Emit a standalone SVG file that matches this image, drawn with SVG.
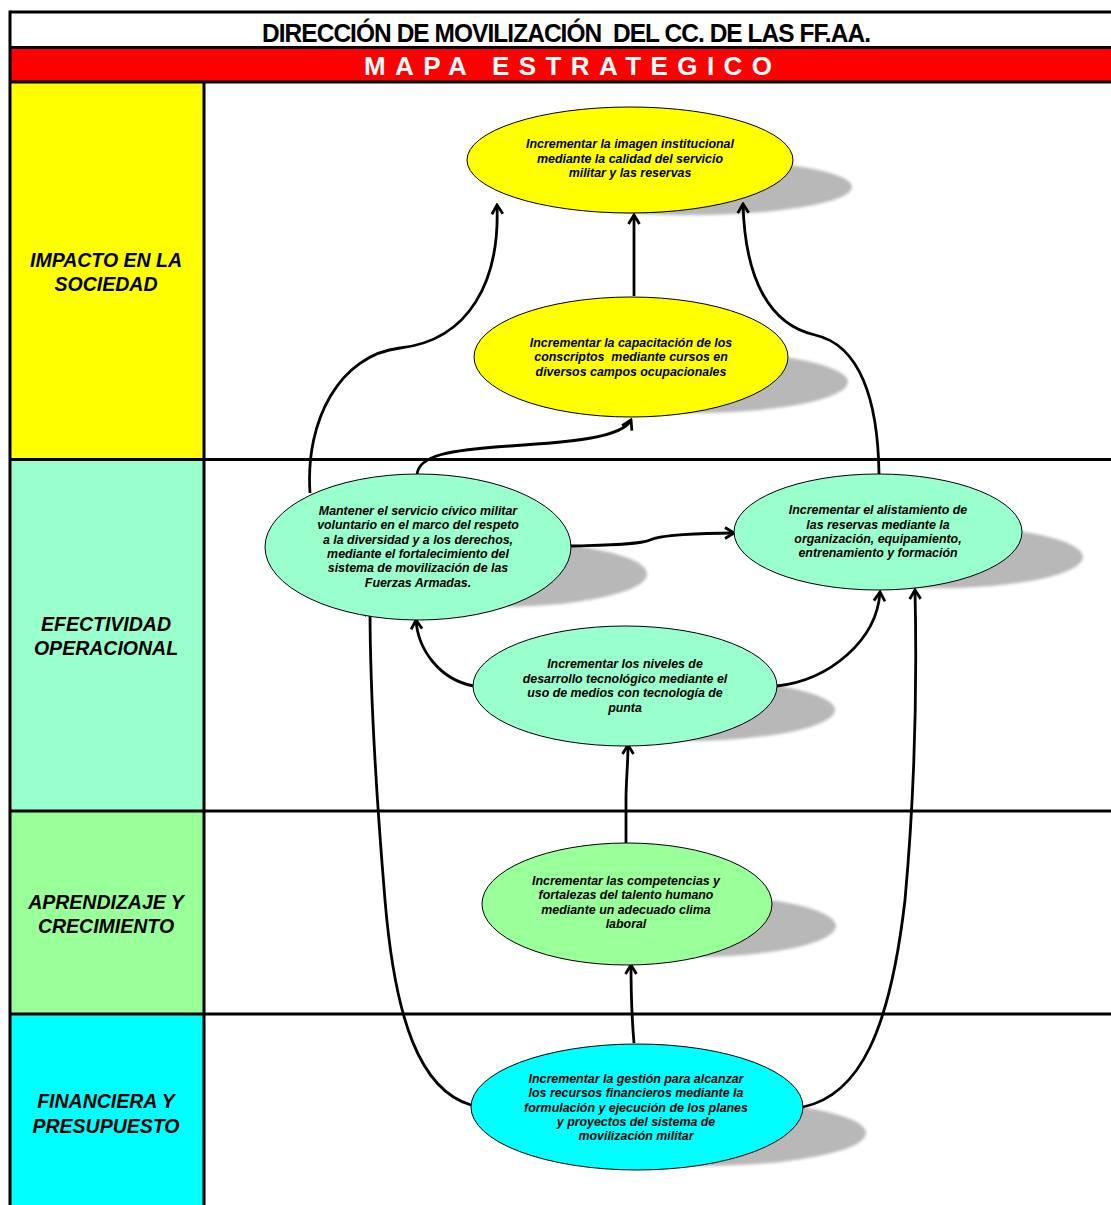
<svg xmlns="http://www.w3.org/2000/svg" width="1111" height="1205" viewBox="0 0 1111 1205">
<style>
.band{stroke:none}
.rule{stroke:#000;stroke-width:3;fill:none}
.lbl{font-family:"Liberation Sans",Arial,sans-serif;font-weight:bold;font-style:italic;font-size:19.5px;text-anchor:middle;fill:#000}
.ntx{font-family:"Liberation Sans",Arial,sans-serif;font-weight:bold;font-style:italic;font-size:12.4px;text-anchor:middle;fill:#000}
.node{stroke:#000;stroke-width:1}
.shadow{fill:#b8b8b8;filter:url(#blur)}
.conn{fill:none;stroke:#000;stroke-width:2.8;marker-end:url(#arr)}
</style>
<defs>
<filter id="blur" x="-10%" y="-30%" width="120%" height="160%"><feGaussianBlur stdDeviation="1.5"/></filter>
<marker id="arr" viewBox="0 0 14 14" refX="12" refY="7" markerWidth="14" markerHeight="14" markerUnits="userSpaceOnUse" orient="auto">
<path d="M3,1.5 L12,7 L3,12.5" fill="none" stroke="#000" stroke-width="2.8" stroke-linejoin="miter"/>
</marker>
</defs>
<rect x="0" y="0" width="1111" height="1205" fill="#fff"/>
<g id="header">
<rect class="band" x="10" y="48" width="1101" height="34" fill="#ff0000"/>
<text x="566" y="42" font-family="'Liberation Sans',Arial,sans-serif" font-weight="bold" font-size="26" text-anchor="middle" textLength="608" lengthAdjust="spacingAndGlyphs" letter-spacing="-1" xml:space="preserve">DIRECCIÓN DE MOVILIZACIÓN  DEL CC. DE LAS FF.AA.</text>
<text x="568" y="75" font-family="'Liberation Sans',Arial,sans-serif" font-weight="bold" font-size="26" fill="#fff" text-anchor="middle" textLength="408" lengthAdjust="spacing">MAPA  ESTRATEGICO</text>
</g>
<g id="lane-impacto">
<rect class="band" x="10" y="83" width="194" height="376" fill="#ffff00"/>
<text class="lbl" x="106" y="267">IMPACTO EN LA</text>
<text class="lbl" x="106" y="291">SOCIEDAD</text>
</g>
<g id="lane-efectividad">
<rect class="band" x="10" y="460" width="194" height="351" fill="#99ffcc"/>
<text class="lbl" x="106" y="631">EFECTIVIDAD</text>
<text class="lbl" x="106" y="655">OPERACIONAL</text>
</g>
<g id="lane-aprendizaje">
<rect class="band" x="10" y="812" width="194" height="202" fill="#99ff99"/>
<text class="lbl" x="106" y="909">APRENDIZAJE Y</text>
<text class="lbl" x="106" y="933">CRECIMIENTO</text>
</g>
<g id="lane-financiera">
<rect class="band" x="10" y="1015" width="194" height="190" fill="#00ffff"/>
<text class="lbl" x="106" y="1108">FINANCIERA Y</text>
<text class="lbl" x="106" y="1133">PRESUPUESTO</text>
</g>
<g id="grid">
<line class="rule" x1="10" y1="12" x2="1111" y2="12"/>
<line class="rule" x1="10" y1="47.5" x2="1111" y2="47.5"/>
<line class="rule" x1="10" y1="82" x2="1111" y2="82"/>
<line class="rule" x1="10" y1="459.5" x2="1111" y2="459.5"/>
<line class="rule" x1="10" y1="811" x2="1111" y2="811"/>
<line class="rule" x1="10" y1="1014" x2="1111" y2="1014"/>
<line class="rule" x1="10" y1="10.5" x2="10" y2="1205"/>
<line class="rule" x1="204" y1="82" x2="204" y2="1205"/>
</g>
<g id="shadows">
<ellipse class="shadow" cx="689" cy="187" rx="163" ry="28"/>
<ellipse class="shadow" cx="691" cy="382" rx="157" ry="31"/>
<ellipse class="shadow" cx="495" cy="574" rx="152" ry="33"/>
<ellipse class="shadow" cx="939" cy="557" rx="144" ry="31"/>
<ellipse class="shadow" cx="683" cy="710" rx="152" ry="31"/>
<ellipse class="shadow" cx="691" cy="926" rx="145" ry="31"/>
<ellipse class="shadow" cx="700" cy="1133" rx="166" ry="33"/>
</g>
<g id="connectors">
<path class="conn" d="M310,493 C305,420 340,355 400,348 C470,340 500,280 497,205"/>
<path class="conn" d="M634,296 L634,215"/>
<path class="conn" d="M417,475 C418,455 450,450 510,446 C570,442 622,438 631,420"/>
<path class="conn" d="M879,474 C878,400 860,345 815,335 C770,325 745,280 743,204"/>
<path class="conn" d="M570,546 C600,545 640,545 650,540 C660,535 700,533 734,533"/>
<path class="conn" d="M474,686 C440,680 418,650 416,620"/>
<path class="conn" d="M777,686 C830,680 877,640 880,592"/>
<path class="conn" d="M626,843 L626,800 C626,780 628,765 628,745"/>
<path class="conn" d="M634,1043 C632,1020 631,990 631,965"/>
<path class="conn" d="M471,1105 C420,1090 395,1020 385,900 C375,780 370,680 370,607"/>
<path class="conn" d="M803,1107 C860,1095 890,1030 905,900 C915,790 917,680 915,590"/>
</g>
<g id="n-imagen">
<ellipse class="node" cx="630" cy="160" rx="163" ry="53" fill="#ffff00"/>
<text class="ntx" x="630" y="148">Incrementar la imagen institucional</text>
<text class="ntx" x="630" y="163">mediante la calidad del servicio</text>
<text class="ntx" x="630" y="177">militar y las reservas</text>
</g>
<g id="n-capacitacion">
<ellipse class="node" cx="631" cy="357" rx="157" ry="60" fill="#ffff00"/>
<text class="ntx" x="631" y="347">Incrementar la capacitación de los</text>
<text class="ntx" x="631" y="361" xml:space="preserve">conscriptos  mediante cursos en</text>
<text class="ntx" x="631" y="376">diversos campos ocupacionales</text>
</g>
<g id="n-servicio">
<ellipse class="node" cx="418" cy="547" rx="153" ry="73" fill="#99ffcc"/>
<text class="ntx" x="418" y="515">Mantener el servicio cívico militar</text>
<text class="ntx" x="418" y="529">voluntario en el marco del respeto</text>
<text class="ntx" x="418" y="544">a la diversidad y a los derechos,</text>
<text class="ntx" x="418" y="558">mediante el fortalecimiento del</text>
<text class="ntx" x="418" y="572">sistema de movilización de las</text>
<text class="ntx" x="418" y="587">Fuerzas Armadas.</text>
</g>
<g id="n-alistamiento">
<ellipse class="node" cx="878" cy="532" rx="144" ry="58" fill="#99ffcc"/>
<text class="ntx" x="878" y="514">Incrementar el alistamiento de</text>
<text class="ntx" x="878" y="529">las reservas mediante la</text>
<text class="ntx" x="878" y="543">organización, equipamiento,</text>
<text class="ntx" x="878" y="557">entrenamiento y formación</text>
</g>
<g id="n-tecnologico">
<ellipse class="node" cx="625" cy="686" rx="152" ry="60" fill="#99ffcc"/>
<text class="ntx" x="625" y="668">Incrementar los niveles de</text>
<text class="ntx" x="625" y="683">desarrollo tecnológico mediante el</text>
<text class="ntx" x="625" y="697">uso de medios con tecnología de</text>
<text class="ntx" x="625" y="712">punta</text>
</g>
<g id="n-talento">
<ellipse class="node" cx="627" cy="904" rx="145" ry="61" fill="#99ff99"/>
<text class="ntx" x="626" y="885">Incrementar las competencias y</text>
<text class="ntx" x="626" y="899">fortalezas del talento humano</text>
<text class="ntx" x="626" y="914">mediante un adecuado clima</text>
<text class="ntx" x="626" y="928">laboral</text>
</g>
<g id="n-gestion">
<ellipse class="node" cx="637" cy="1107" rx="166" ry="63" fill="#00ffff"/>
<text class="ntx" x="636" y="1083">Incrementar la gestión para alcanzar</text>
<text class="ntx" x="636" y="1097">los recursos financieros mediante la</text>
<text class="ntx" x="636" y="1112">formulación y ejecución de los planes</text>
<text class="ntx" x="636" y="1126">y proyectos del sistema de</text>
<text class="ntx" x="636" y="1140">movilización militar</text>
</g>
</svg>
